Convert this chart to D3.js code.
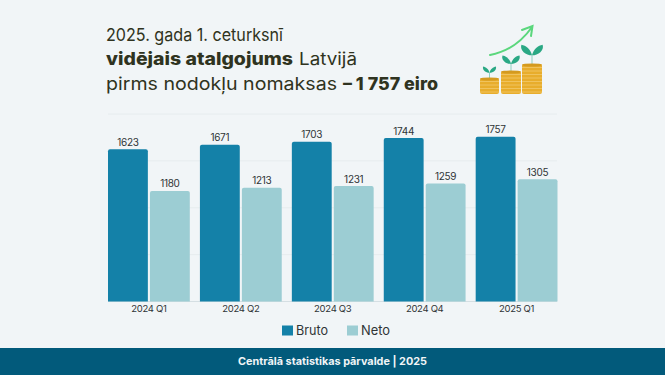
<!DOCTYPE html>
<html>
<head>
<meta charset="utf-8">
<script src="https://cdn.jsdelivr.net/npm/d3@7"></script>
<style>
  html, body { margin: 0; padding: 0; background: #f1f5f7; }
  svg { display: block; font-family: "Inter", "Noto Sans", sans-serif; }
</style>
</head>
<body>
<div id="chart"></div>
<script>
// Vidējais atalgojums pa ceturkšņiem
const categories = ["2024 Q1", "2024 Q2", "2024 Q3", "2024 Q4", "2025 Q1"];
const bruto = [1623, 1671, 1703, 1744, 1757];
const neto = [1180, 1213, 1231, 1259, 1305];
const seriesNames = ["Bruto", "Neto"];
const seriesColors = ["#1481a8", "#9ccdd3"];
const gridTicks = [0, 500, 1000, 1500, 2000];

const W = 665, H = 375;
const margin = { top: 114, left: 108, right: 108, bottom: 74 };

const svg = d3.select("#chart").append("svg")
    .attr("width", W)
    .attr("height", H);

svg.append("rect").attr("width", W).attr("height", H).attr("fill", "#f1f5f7");

// --- Virsraksts ---
const ink = "#2f3320";
const titleParts = [
  ["2025. gada 1. ceturksnī", 400, 106, 41, 177],
  ["vidējais atalgojums", 800, 106, 65, 187],
  ["Latvijā", 400, 299, 65, 58],
  ["pirms nodokļu nomaksas", 400, 106, 90, 231],
  ["– 1 757 eiro", 800, 343, 90, 95]
];
titleParts.forEach(p => {
  svg.append("text")
    .attr("x", p[2])
    .attr("y", p[3])
    .attr("font-size", 17.5)
    .attr("font-weight", p[1])
    .attr("fill", ink)
    .attr("textLength", p[4])
    .attr("lengthAdjust", "spacingAndGlyphs")
    .text(p[0]);
});

// --- Scales ---
const x0 = d3.scaleBand()
  .domain(categories)
  .range([margin.left, W - margin.right + 0.5])
  .paddingInner(0.11)
  .paddingOuter(0);

const x1 = d3.scaleBand()
  .domain(seriesNames)
  .range([0, x0.bandwidth()])
  .paddingInner(0.05);

const y = d3.scaleLinear()
  .domain([0, 2000])
  .range([H - margin.bottom + 0.5, margin.top]);

// --- Lưới ---
svg.append("g")
  .selectAll("line")
  .data(gridTicks)
  .join("line")
    .attr("x1", margin.left)
    .attr("x2", W - margin.right)
    .attr("y1", d => y(d))
    .attr("y2", d => y(d))
    .attr("stroke", d => d === 0 ? "#d5dfe3" : "#e6ecee")
    .attr("stroke-width", 1);

// --- Cột ---
const rows = categories.map((c, i) => ({ cat: c, values: [bruto[i], neto[i]] }));

const groups = svg.selectAll("g.group")
  .data(rows)
  .join("g")
    .attr("class", "group")
    .attr("transform", d => `translate(${x0(d.cat)},0)`);

const barPath = (bx, by, bw, bh, r) =>
  `M${bx},${by + bh}V${by + r}Q${bx},${by} ${bx + r},${by}H${bx + bw - r}Q${bx + bw},${by} ${bx + bw},${by + r}V${by + bh}Z`;

groups.selectAll("path")
  .data(d => d.values.map((v, i) => ({ v, i })))
  .join("path")
    .attr("d", d => barPath(x1(seriesNames[d.i]), y(d.v), x1.bandwidth(), y(0) - y(d.v), 2))
    .attr("fill", d => seriesColors[d.i]);

groups.selectAll("text")
  .data(d => d.values.map((v, i) => ({ v, i })))
  .join("text")
    .attr("x", d => x1(seriesNames[d.i]) + x1.bandwidth() / 2)
    .attr("y", d => y(d.v) - 3.5)
    .attr("text-anchor", "middle")
    .attr("font-size", 10)
    .attr("letter-spacing", -0.3)
    .attr("fill", "#2f3436")
    .text(d => d.v);

// --- Trục X ---
const xAxis = svg.append("g")
  .attr("transform", `translate(0,${y(0)})`)
  .call(d3.axisBottom(x0).tickSize(0).tickPadding(4));
xAxis.select(".domain").remove();
xAxis.selectAll("text")
  .attr("font-size", 9.5)
  .attr("font-family", "Inter, sans-serif")
  .attr("letter-spacing", -0.3)
  .attr("fill", "#2f3436");

// --- Legend ---
const legendX = [282, 347];
const legendTextWidth = [32, 29];
seriesNames.forEach((name, i) => {
  svg.append("rect")
    .attr("x", legendX[i])
    .attr("y", 325.5)
    .attr("width", 11)
    .attr("height", 10)
    .attr("fill", seriesColors[i]);
  svg.append("text")
    .attr("x", legendX[i] + 14)
    .attr("y", 335)
    .attr("font-size", 13)
    .attr("fill", "#2f3436")
    .attr("textLength", legendTextWidth[i])
    .attr("lengthAdjust", "spacingAndGlyphs")
    .text(name);
});

// --- Coin icon ---
const icon = svg.append("g");
const stacks = [
  { x: 480, w: 19, top: 78, bottom: 94, leaf: 0.75 },
  { x: 501, w: 20, top: 71, bottom: 94, leaf: 1 },
  { x: 522, w: 20, top: 64, bottom: 94, leaf: 1.25 }
];
const leafPath = "M0,0C-1,-5 -5,-8 -8.5,-8.5C-10,-4 -5,0 0,0Z";
stacks.forEach(s => {
  const cx = s.x + s.w / 2;
  const leafBase = s.top - 7 * s.leaf;
  icon.append("line")
    .attr("x1", cx).attr("x2", cx)
    .attr("y1", s.top).attr("y2", leafBase)
    .attr("stroke", "#8fcfc0").attr("stroke-width", 1);
  [-1, 1].forEach(side => {
    icon.append("path")
      .attr("d", leafPath)
      .attr("transform", `translate(${cx},${leafBase}) scale(${side * -1 * -s.leaf},${s.leaf})`)
      .attr("fill", "#2aa884");
  });
  icon.append("rect")
    .attr("x", s.x).attr("y", s.top)
    .attr("width", s.w).attr("height", s.bottom - s.top)
    .attr("rx", 2)
    .attr("fill", "#e8ad2c");
  d3.range(s.top + 3.5, s.bottom - 1, 3.5).forEach(ly => {
    icon.append("line")
      .attr("x1", s.x).attr("x2", s.x + s.w)
      .attr("y1", ly).attr("y2", ly)
      .attr("stroke", "#f3cd73").attr("stroke-width", 0.7);
  });
  icon.append("ellipse")
    .attr("cx", cx).attr("cy", s.top + 1)
    .attr("rx", s.w / 2).attr("ry", 1.6)
    .attr("fill", "#d49a1f");
});
icon.append("path")
  .attr("d", "M490,55Q516,50 532,27M522,30L532.5,26L531,36")
  .attr("fill", "none")
  .attr("stroke", "#5bd77d")
  .attr("stroke-width", 2)
  .attr("stroke-linecap", "round");

// --- Footer ---
svg.append("rect")
  .attr("x", 0).attr("y", 348)
  .attr("width", W).attr("height", 27)
  .attr("fill", "#025a7b");
svg.append("text")
  .attr("x", 238)
  .attr("y", 365)
  .attr("font-size", 10.5)
  .attr("font-weight", 700)
  .attr("fill", "#f1f5f7")
  .attr("textLength", 189)
  .attr("lengthAdjust", "spacingAndGlyphs")
  .text("Centrālā statistikas pārvalde | 2025");
</script>
</body>
</html>
